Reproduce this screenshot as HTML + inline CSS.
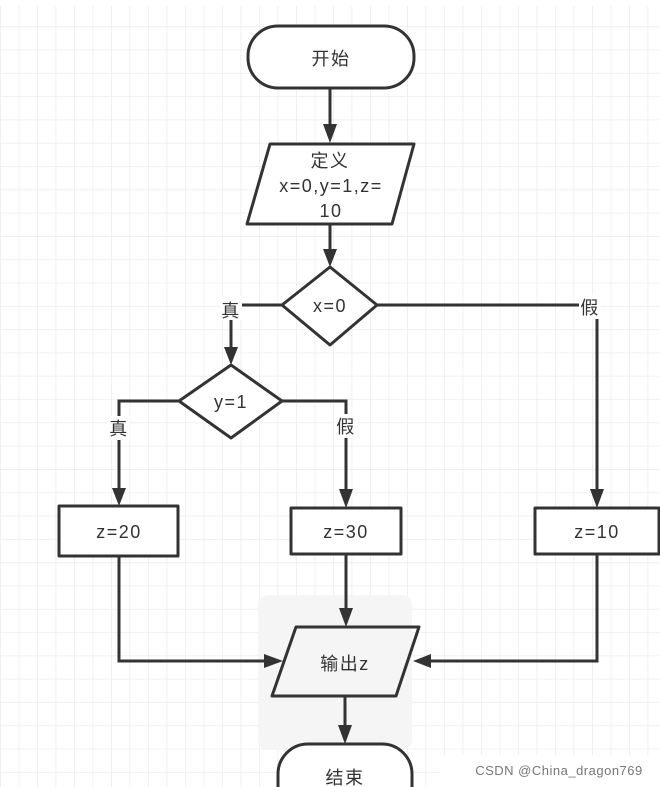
<!DOCTYPE html>
<html><head><meta charset="utf-8"><style>
html,body{margin:0;padding:0;width:660px;height:787px;overflow:hidden;background:#fff}
svg{display:block}
text{font-family:"Liberation Sans","Noto Sans CJK SC",sans-serif;font-size:18px;fill:#333;text-anchor:middle;letter-spacing:1.5px}
</style></head><body>
<svg width="660" height="787" viewBox="0 0 660 787" xmlns="http://www.w3.org/2000/svg">
<defs>
<pattern id="g" x="0" y="3" width="18.5" height="23.3" patternUnits="userSpaceOnUse">
<path d="M0 0H18.5M0 0V23.3" stroke="#ececec" stroke-width="1.5" fill="none"/>
</pattern>
</defs>
<rect x="0" y="6" width="660" height="781" fill="url(#g)"/>
<rect x="0" y="0" width="660" height="6" fill="#fff"/>
<rect x="258" y="595" width="154" height="155" rx="10" fill="#f5f5f5"/>
<g stroke="#333" stroke-width="3" fill="#fff" stroke-linejoin="round">
<rect x="248" y="26" width="166" height="62" rx="30"/>
<polygon points="270,144 414,144 392,224 247,224"/>
<polygon points="330,267 377,305 330,345 282,305"/>
<polygon points="231,365 282,401 231,438 179,401"/>
<rect x="59" y="506" width="119" height="50"/>
<rect x="291" y="508" width="110" height="46"/>
<rect x="535" y="508" width="124" height="46"/>
<polygon points="296,627 419,627 396,696 272,696" fill="none"/>
<rect x="278" y="744" width="134" height="80" rx="30"/>
</g>
<g stroke="#333" stroke-width="3" fill="none">
<path d="M330 88V124"/>
<path d="M330 224V249"/>
<path d="M282 305H231V347"/>
<path d="M179 401H119V488"/>
<path d="M282 401H346V489"/>
<path d="M377 305H597V489"/>
<path d="M119 556V661H264"/>
<path d="M346 554V608"/>
<path d="M597 554V661H431"/>
<path d="M345 696V725"/>
</g>
<g fill="#333">
<polygon points="323,124 337,124 330,143"/>
<polygon points="323,249 337,249 330,267"/>
<polygon points="224,347 238,347 231,365"/>
<polygon points="112,488 126,488 119,506"/>
<polygon points="339,489 353,489 346,508"/>
<polygon points="590,489 604,489 597,508"/>
<polygon points="339,608 353,608 346,627"/>
<polygon points="264,654 264,668 283,661"/>
<polygon points="431,654 431,668 413,661"/>
<polygon points="338,725 352,725 345,744"/>
</g>
<g fill="#fff">
<rect x="220" y="296" width="22" height="24"/>
<rect x="108" y="416" width="22" height="24"/>
<rect x="335" y="414" width="22" height="24"/>
<rect x="579" y="295" width="22" height="24"/>
<rect x="440" y="755" width="220" height="32"/>
</g>
<text x="331" y="65">开始</text>
<text x="330" y="167">定义</text>
<text x="331" y="192">x=0,y=1,z=</text>
<text x="331" y="217">10</text>
<text x="330" y="312">x=0</text>
<text x="231" y="408">y=1</text>
<text x="231" y="317">真</text>
<text x="119" y="435">真</text>
<text x="346" y="433">假</text>
<text x="590" y="314">假</text>
<text x="119" y="538">z=20</text>
<text x="346" y="538">z=30</text>
<text x="597" y="538">z=10</text>
<text x="345" y="670">输出z</text>
<text x="345" y="784">结束</text>
<text x="559" y="775" style="font-size:13px;fill:#777;letter-spacing:0.5px">CSDN @China_dragon769</text>
</svg>
</body></html>
